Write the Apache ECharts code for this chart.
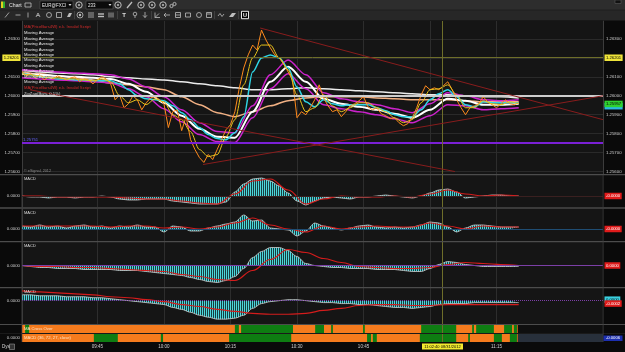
<!DOCTYPE html>
<html><head><meta charset="utf-8">
<script src="https://cdn.jsdelivr.net/npm/echarts@6.0.0/dist/echarts.min.js"></script>
<style>html,body{margin:0;padding:0;background:#0a0a0a;overflow:hidden}#c{width:625px;height:352px}</style>
</head><body><div id="c"></div>
<script>
// ---------- time axis: minutes after 09:00, one bar per minute ----------
const T0 = 28;                 // first bar 09:28
const X_MIN = 28, X_MAX = 159; // 09:28 .. 11:39
const DATA_END = 139.8;
const timeTicks = [45, 60, 75, 90, 105, 120, 135];
const priceTicks = [1.256, 1.257, 1.258, 1.259, 1.260, 1.261, 1.262, 1.263];
const cursorTime = 122.667;    // 11:02:40
const cursorLabel = '11:02:40 08/31/2012';
const cursorPrice = 1.26201;
const roundLevel = 1.26000;
const supportLevel = 1.25751;
const lastPrice = 1.25957;

// ---------- price (1-min close) ----------
const priceClose = [
 1.26126,1.26105,1.26116,1.26095,1.26111,1.26084,1.26100,1.26089,1.26105,1.26095,
 1.26084,1.26095,1.26100,1.26074,1.26089,1.26084,1.26063,1.26084,1.26100,1.26089,
 1.26063,1.25979,1.26005,1.25937,1.25958,1.26000,1.25979,1.25926,1.25963,1.25989,
 1.25995,1.25979,1.25958,1.25832,1.25916,1.25926,1.25816,1.25890,1.25769,1.25716,
 1.25674,1.25648,1.25690,1.25663,1.25716,1.25769,1.25821,1.25847,1.25916,1.26042,
 1.26147,1.26216,1.26268,1.26242,1.26347,1.26295,1.26253,1.26216,1.26200,1.26168,
 1.26126,1.26084,1.25884,1.25916,1.25900,1.25937,1.25979,1.26058,1.25989,1.25947,
 1.25916,1.25926,1.25890,1.25916,1.25947,1.25958,1.25974,1.25995,1.25942,1.25926,
 1.25937,1.25905,1.25895,1.25879,1.25884,1.25858,1.25842,1.25853,1.25884,1.25937,
 1.26005,1.26053,1.26032,1.26042,1.26032,1.26053,1.26074,1.26032,1.25979,1.25937,
 1.25900,1.25937,1.25947,1.25958,1.25995,1.25968,1.25953,1.25937,1.25958,1.25979,
 1.25958,1.25953,1.25963];

// ---------- moving averages (read every 2 or 4 minutes) ----------
const STEP_FAST = 2, STEP_SLOW = 4;
const maYellow = [1.26116,1.26111,1.26105,1.26095,1.26095,1.26089,1.26089,1.26084,1.26079,1.26089,
 1.26074,1.26000,1.25963,1.25979,1.25953,1.25984,1.25968,1.25900,1.25874,1.25811,
 1.25716,1.25679,1.25689,1.25784,1.25874,1.26058,1.26200,1.26268,1.26268,1.26200,
 1.26137,1.26005,1.25916,1.25937,1.26005,1.25947,1.25916,1.25937,1.25963,1.25963,
 1.25937,1.25916,1.25884,1.25858,1.25874,1.25963,1.26032,1.26037,1.26058,1.26005,
 1.25937,1.25937,1.25974,1.25958,1.25953,1.25968,1.25958];
const maCyan = [1.26121,1.26111,1.26100,1.26095,1.26089,1.26089,1.26084,1.26084,1.26079,1.26079,
 1.26079,1.26063,1.26032,1.26000,1.25984,1.25979,1.25974,1.25947,1.25911,1.25874,
 1.25832,1.25795,1.25774,1.25768,1.25805,1.25890,1.26126,1.26200,1.26216,1.26200,
 1.26147,1.26047,1.25968,1.25942,1.25979,1.25958,1.25947,1.25953,1.25953,1.25953,
 1.25937,1.25921,1.25900,1.25890,1.25890,1.25926,1.25979,1.26011,1.26032,1.25995,
 1.25953,1.25942,1.25968,1.25963,1.25963,1.25963,1.25963];
const bandMid = [1.26116,1.26111,1.26105,1.26100,1.26095,1.26089,1.26063,1.26021,1.25963,1.25895,
 1.25826,1.25784,1.25779,1.25916,1.26074,1.26153,1.26074,1.25984,1.25958,1.25942,
 1.25926,1.25905,1.25884,1.25926,1.25984,1.25974,1.25953,1.25953,1.25958];
const bandUpper = [1.26137,1.26132,1.26126,1.26121,1.26116,1.26111,1.26089,1.26047,1.25995,1.25926,
 1.25858,1.25811,1.25805,1.25947,1.26111,1.26189,1.26111,1.26016,1.25984,1.25968,
 1.25953,1.25932,1.25911,1.25958,1.26016,1.26000,1.25979,1.25974,1.25979];
const bandLower = [1.26095,1.26089,1.26084,1.26079,1.26074,1.26068,1.26037,1.25995,1.25932,1.25863,
 1.25795,1.25758,1.25753,1.25884,1.26037,1.26116,1.26037,1.25953,1.25932,1.25916,
 1.25900,1.25879,1.25858,1.25895,1.25953,1.25947,1.25926,1.25932,1.25937];
const maPeach = [1.26126,1.26116,1.26105,1.26095,1.26084,1.26068,1.26058,1.26047,1.26032,1.25995,
 1.25953,1.25911,1.25890,1.25916,1.25947,1.25974,1.25989,1.25995,1.25995,1.25995,
 1.25989,1.25984,1.25979,1.25979,1.25979,1.25974,1.25968,1.25968,1.25968];
const maWhite = [1.26137,1.26126,1.26121,1.26116,1.26111,1.26100,1.26095,1.26089,1.26084,1.26074,
 1.26063,1.26053,1.26042,1.26032,1.26032,1.26037,1.26042,1.26037,1.26032,1.26026,
 1.26021,1.26016,1.26011,1.26005,1.26005,1.26000,1.25995,1.25995,1.25989];

// trend lines: [time1, price1, time2, price2]
const trendLines = [[81.7,1.26358,159,1.25874],[29.8,1.26032,125.6,1.25600],[68.8,1.25637,159,1.26000]];

// ---------- MACD panels (units of 0.00001), every 2 min / signal every 4 min ----------
const macd1 = [0,-1,-1,-2,-1,-1,-2,-1,-1,0,-1,-3,-4,-4,-3,-3,-3,-5,-6,-7,
 -8,-8,-8,-6,4,12,17,18,15,10,3,-5,-9,-5,-2,-1,-2,-3,-1,-1,
 0,1,0,-1,-2,0,3,6,7,4,-2,-1,0,1,1,0,0];
const signal1 = [0,0,-1,-1,-1,-1,-2,-3,-3,-5,-7,-8,2,15,17,6,-8,-3,0,-1,-1,0,-1,2,6,2,0,1,0];
const macd2 = [3,2,4,2,3,1,3,4,2,3,1,3,2,4,2,2,-3,3,2,-2,
 -2,1,3,5,7,14,8,9,1,0,-1,-7,-2,6,3,1,-1,1,3,4,
 2,1,2,1,2,4,7,6,2,-3,1,4,4,3,2,2,2];
const signal2 = [3,3,3,3,3,2,3,3,1,2,0,2,6,11,4,0,-3,3,0,2,3,2,2,6,3,0,3,2,2];
const macd3 = [0,-1,-2,-2,-3,-3,-3,-4,-4,-4,-4,-5,-5,-5,-6,-7,-8,-9,-10,-12,
 -14,-16,-17,-15,-11,-3,8,14,18,18,15,9,2,0,-1,-2,-2,-3,-3,-3,
 -4,-4,-4,-5,-6,-6,-3,1,4,3,1,0,-1,-1,-1,-1,-1];
const signal3 = [0,-1,-1,-2,-2,-3,-4,-5,-6,-9,-11,-14,-15,-5,6,16,13,7,3,-1,-2,-3,-3,-2,1,3,2,1,0];
const macd4 = [6,6,5,5,5,4,4,4,3,3,2,1,0,-1,-2,-3,-4,-7,-9,-12,
 -15,-17,-19,-19,-18,-15,-8,-3,-1,0,1,1,0,-1,-2,-2,-3,-3,-4,-4,
 -5,-6,-7,-7,-8,-7,-6,-4,-3,-3,-3,-2,-2,-2,-2,-2,-2];
const signal4 = [10,9,8,7,6,4,3,1,-1,-4,-6,-9,-11,-13,-14,-14,-13,-10,-8,-5,-4,-4,-5,-5,-4,-4,-4,-4,-4];

// ---------- state bands (green spans, minutes after 09:00) ----------
const crossOverGreen = [[28.7,29.6],[76.0,76.9],[77.4,89.1],[94.1,96.1],[97.7,98.1],[104.9,105.3],[118.0,125.9],[129.5,129.9],[130.4,134.4],[136.7,138.5],[138.9,139.6]];
const macdBandGreen = [[44.2,49.6],[59.3,59.8],[74.7,88.7],[105.8,106.7],[107.1,108.0],[117.7,125.9],[128.6,129.0],[134.4,136.2],[138.0,139.6]];

// ====================================================================
const F = '"Liberation Sans", Arial, sans-serif';
const pts = (arr, step) => arr.map((v, k) => [T0 + k * step, v]);
const fmtTime = m => { const h = 9 + Math.floor(m / 60), mm = Math.round(m % 60); return (h < 10 ? '0' : '') + h + ':' + (mm < 10 ? '0' : '') + mm; };
const CROSS = '#6e6e2a';
const HIDDEN = {color: 'rgba(0,0,0,0)', width: 0.1, type: 'solid'};

const chart = echarts.init(document.getElementById('c'), null, {renderer: 'canvas'});

const grids = [
  {top: 21, height: 153}, {top: 175, height: 32}, {top: 209, height: 32}, {top: 242, height: 45},
  {top: 288, height: 36}, {top: 325, height: 8}, {top: 334, height: 8}
].map((g, i) => Object.assign({left: 22, right: 22, show: i <= 4, backgroundColor: '#151515', borderWidth: 0}, g));

const xAxes = grids.map((g, i) => ({
  type: 'value', gridIndex: i, min: X_MIN, max: X_MAX,
  axisLine: {show: false}, axisTick: {show: false, customValues: timeTicks},
  axisLabel: {show: i === 6, customValues: timeTicks, formatter: fmtTime, color: '#cfcfcf', fontSize: 4.5, fontFamily: F, margin: 2},
  splitLine: {show: i <= 4, lineStyle: {color: '#2d2d2d', width: 1}}
}));

const panels = [
  {macd: macd1, sig: signal1, min: -11, max: 21, zero: '#3a2020', zt: 'solid', tags: [[0, '-0.0000', '#e01b1b', '#fff']]},
  {macd: macd2, sig: signal2, min: -12, max: 20, zero: '#1f4d73', zt: 'solid', tags: [[0, '-0.0000', '#e01b1b', '#fff']]},
  {macd: macd3, sig: signal3, min: -21.5, max: 23.5, zero: '#7b3fa6', zt: 'solid', tags: [[0, '0.0000', '#e01b1b', '#fff']]},
  {macd: macd4, sig: signal4, min: -24, max: 13, zero: '#7b3fa6', zt: 'dotted', tags: [[1, '0.0000', '#3ad0e0', '#000'], [-3, '-0.0002', '#e01b1b', '#fff']]}
];

const yAxes = [
  {type: 'value', gridIndex: 0, position: 'left', min: 1.25587, max: 1.26395,
   axisLine: {show: true, lineStyle: {color: '#3c3c3c'}}, axisTick: {show: false, customValues: priceTicks},
   axisLabel: {customValues: priceTicks, formatter: v => v.toFixed(5), color: '#d0d0d0', fontSize: 4.3, fontFamily: F, margin: 2},
   splitLine: {show: true, lineStyle: {color: '#2a2a2a'}}},
  {type: 'value', gridIndex: 0, position: 'right', min: 1.25587, max: 1.26395,
   axisLine: {show: true, lineStyle: {color: '#3c3c3c'}}, axisTick: {show: false, customValues: priceTicks},
   axisLabel: {customValues: priceTicks, formatter: v => v.toFixed(5), color: '#d0d0d0', fontSize: 4.3, fontFamily: F, margin: 3},
   splitLine: {show: false}}
];
panels.forEach((p, k) => yAxes.push({
  type: 'value', gridIndex: k + 1, min: p.min, max: p.max,
  axisLine: {show: true, lineStyle: {color: '#3c3c3c'}}, axisTick: {show: false, customValues: [0]},
  axisLabel: {customValues: [0], formatter: () => '0.0000', color: '#d0d0d0', fontSize: 4.3, fontFamily: F, margin: 2},
  splitLine: {show: false}
}));
yAxes.push({type: 'value', gridIndex: 5, min: 0, max: 1, show: false});
yAxes.push({type: 'value', gridIndex: 6, min: 0, max: 1, axisLine: {show: false}, axisTick: {show: false, customValues: [0.5]},
  axisLabel: {customValues: [0.5], formatter: () => '0.0000', color: '#d0d0d0', fontSize: 4.3, fontFamily: F, margin: 2}, splitLine: {show: false}});

function tag(text, bg, fg, pos) {
  return {show: true, position: pos || 'end', distance: 1.5, formatter: text, backgroundColor: bg, color: fg || '#fff',
    fontSize: 4.2, fontFamily: F, padding: [1, 1.5, 0.5, 1.5], lineHeight: 5, opacity: 1};
}
const crossItem = {xAxis: cursorTime, lineStyle: {color: CROSS, width: 1, type: 'solid', opacity: 1}, label: {show: false}};

// striped histogram fill
const pat = document.createElement('canvas'); pat.width = 2; pat.height = 2;
const pc = pat.getContext('2d');
pc.fillStyle = 'rgba(80,225,230,0.95)'; pc.fillRect(0, 0, 1, 2);
pc.fillStyle = 'rgba(25,95,100,0.55)'; pc.fillRect(1, 0, 1, 2);

const ml = (s, w, c, d, extra) => Object.assign({type: 'line', xAxisIndex: 0, yAxisIndex: 0, symbol: 'none', smooth: 0.3, smoothMonotone: 'x',
  silent: true, data: d, lineStyle: {color: c, width: w}, itemStyle: {color: c}, name: s}, extra || {});

const mainMarks = [
  {yAxis: cursorPrice, lineStyle: {color: CROSS, width: 1, type: 'solid'}, label: tag(cursorPrice.toFixed(5), '#efe43a', '#000', 'start')},
  {yAxis: cursorPrice, lineStyle: HIDDEN, label: tag(cursorPrice.toFixed(5), '#efe43a', '#000', 'end')},
  {yAxis: roundLevel, lineStyle: {color: '#cdcdcd', width: 2, type: 'solid'}},
  {yAxis: supportLevel, lineStyle: {color: '#7b20d6', width: 2, type: 'solid'},
   label: {show: true, position: 'insideStartTop', formatter: supportLevel.toFixed(5), color: '#6464ff', fontSize: 4.2, fontFamily: F, distance: [1, 1]}},
  {yAxis: lastPrice - 0.00012, lineStyle: HIDDEN, label: tag(lastPrice.toFixed(5), '#2ab8e0', '#000', 'end')},
  {yAxis: lastPrice, lineStyle: HIDDEN, label: tag(lastPrice.toFixed(5), '#2fd12f', '#000', 'end')},
  crossItem
].concat(trendLines.map(t => [{coord: [t[0], t[1]]}, {coord: [t[2], t[3]]}]));

const series = [
  ml('maWhite', 1.5, '#ececec', pts(maWhite, STEP_SLOW), {markLine: {silent: true, symbol: ['none', 'none'], animation: false, precision: 6,
     label: {show: false}, lineStyle: {color: '#881c1c', width: 1, type: 'solid'}, data: mainMarks}}),
  ml('maPeach', 1.5, '#f2b184', pts(maPeach, STEP_SLOW)),
  ml('bandUpper', 1.5, '#cc22cc', pts(bandUpper, STEP_SLOW)),
  ml('bandLower', 1.5, '#cc22cc', pts(bandLower, STEP_SLOW)),
  ml('bandMid', 2, '#ffffff', pts(bandMid, STEP_SLOW)),
  ml('maCyan', 1.5, '#2fd6e6', pts(maCyan, STEP_FAST)),
  ml('price', 1, '#ff8a1c', pts(priceClose, 1), {smooth: false}),
  ml('maYellow', 1, '#e8c41c', pts(maYellow, STEP_FAST))
];
const PRICE_IDX = series.findIndex(s => s.name === 'price');

panels.forEach((p, k) => {
  const marks = [{yAxis: 0, lineStyle: {color: p.zero, width: 1, type: p.zt}}]
    .concat(p.tags.map(t => ({yAxis: t[0], lineStyle: HIDDEN, label: tag(t[1], t[2], t[3], 'end')})))
    .concat([crossItem]);
  series.push({type: 'line', name: 'macd' + (k + 1), xAxisIndex: k + 1, yAxisIndex: k + 2, symbol: 'none', smooth: 0.3, smoothMonotone: 'x', silent: true,
    data: pts(p.macd, STEP_FAST), lineStyle: {color: '#cfcfcf', width: 0.8},
    areaStyle: {color: {image: pat, repeat: 'repeat'}, opacity: 1},
    markLine: {silent: true, symbol: ['none', 'none'], animation: false, precision: 6, label: {show: false}, data: marks}});
  series.push({type: 'line', name: 'signal' + (k + 1), xAxisIndex: k + 1, yAxisIndex: k + 2, symbol: 'none', smooth: 0.4, smoothMonotone: 'x', silent: true,
    data: pts(p.sig, STEP_SLOW), lineStyle: {color: '#d41c1c', width: 1.2}, z: 4});
});

function bandSeries(gi, yi, greens, tail) {
  const areas = [[{xAxis: X_MIN, itemStyle: {color: '#f57b1d'}}, {xAxis: DATA_END}],
                 [{xAxis: DATA_END, itemStyle: {color: tail}}, {xAxis: X_MAX}]]
    .concat(greens.map(g => [{xAxis: g[0], itemStyle: {color: '#0e7d12'}}, {xAxis: g[1]}]));
  return {type: 'line', xAxisIndex: gi, yAxisIndex: yi, data: [[X_MIN, 0.5]], symbol: 'none', lineStyle: {opacity: 0}, silent: true,
    markArea: {silent: true, animation: false, precision: 6, data: areas},
    markLine: {silent: true, symbol: ['none', 'none'], animation: false, precision: 6, label: {show: false}, data: [crossItem]}};
}
series.push(bandSeries(5, 6, crossOverGreen, '#0f0f0f'));
series.push(bandSeries(6, 7, macdBandGreen, '#28303b'));

// ---------- static decoration (toolbar, separators, captions) ----------
const gray = '#bdbdbd';
const L = (x1, y1, x2, y2, c, w) => ({type: 'line', z: 60, silent: true, shape: {x1, y1, x2, y2}, style: {stroke: c || gray, lineWidth: w || 0.8}});
const R = (x, y, w, h, fill, stroke, lw) => ({type: 'rect', z: 60, silent: true, shape: {x, y, width: w, height: h}, style: {fill: fill || 'none', stroke: stroke || null, lineWidth: lw || 0.8}});
const C = (cx, cy, r, fill, stroke, lw) => ({type: 'circle', z: 60, silent: true, shape: {cx, cy, r}, style: {fill: fill || 'none', stroke: stroke || null, lineWidth: lw || 0.8}});
const TX = (x, y, text, fill, size, extra) => ({type: 'text', z: 70, silent: true, style: Object.assign({x, y, text, fill, fontSize: size, fontFamily: F, verticalAlign: 'middle'}, extra || {})});
const P = (points, fill) => ({type: 'polygon', z: 60, silent: true, shape: {points}, style: {fill}});

const graphics = [
  R(0, 0, 625, 10, '#2d2d2d'), R(0, 10, 625, 10.5, '#272727'), L(0, 10, 625, 10, '#181818', 0.6),
  R(1, 1.5, 2, 6.5, '#e0d020'), R(3, 1.5, 2, 6.5, '#30b030'),
  TX(9, 5.3, 'Chart', '#e8e8e8', 5.2),
  R(25, 3, 6, 4, null, gray),
  R(40, 1, 33, 8, '#0b0b0b', '#5a5a5a', 0.6), TX(42, 5.3, 'EUR@FXCI', '#eeeeee', 4.5), P([[68.5, 4], [71.5, 4], [70, 6]], '#ddd'),
  C(79, 5, 3.2, null, gray, 1), C(79, 5, 1, gray),
  R(86, 1, 27, 8, '#0b0b0b', '#5a5a5a', 0.6), TX(88, 5.3, '233', '#eeeeee', 4.5), P([[108.5, 4], [111.5, 4], [110, 6]], '#ddd'),
  C(118, 5, 3.2, null, gray, 1), C(118, 5, 1, gray),
  L(127, 8, 132, 2, gray, 1.3),
  C(141, 5, 3.2, null, gray, 1), C(141, 5, 1, gray), C(152, 5, 3.2, null, gray, 1), C(152, 5, 1, gray),
  C(163, 5, 3.2, null, gray, 1), C(163, 5, 1, gray), C(171.5, 6, 1.6, null, gray, 0.9), C(174.5, 4, 1.6, null, gray, 0.9),
  // drawing tools row
  L(5, 17.5, 9, 12.5), L(15.5, 15, 20.5, 15), L(28, 12.5, 28, 17.5),
  L(36, 17, 38, 13), L(38, 13, 40, 17), L(36.8, 15.5, 39.2, 15.5),
  C(49, 15, 2.5, null, gray), R(56.5, 12.5, 5, 5, null, gray), P([[67, 17], [69, 13], [72, 13], [70, 17]], gray),
  L(74.5, 11, 74.5, 19, '#454545'),
  C(80, 15, 3, null, gray), C(80, 15, 1.2, gray),
  L(88, 13, 94, 13), L(88, 15, 94, 15), L(88, 17, 94, 17),
  L(98, 14, 104, 14, gray, 1.4), L(98, 16.5, 104, 16.5, gray, 1.4),
  L(109, 12.5, 109, 17.5), L(111, 12.5, 111, 17.5), L(113, 12.5, 113, 17.5),
  L(117.5, 11, 117.5, 19, '#454545'),
  TX(124, 15.3, 'T', '#dddddd', 6, {align: 'center', fontWeight: 'bold'}),
  C(135, 14, 1.8, null, gray), L(135, 15.8, 135, 18),
  L(145, 12, 145, 17.5), L(143, 15.3, 145, 17.5), L(147, 15.3, 145, 17.5),
  L(151.5, 11, 151.5, 19, '#454545'),
  L(155, 12.5, 155, 17.5), L(155, 17.5, 160, 17.5), L(155, 17.5, 159, 13.5),
  L(164, 15, 170, 15), L(164, 15, 166, 13), L(164, 15, 166, 17),
  R(175.5, 12.5, 5, 5, null, gray), L(175.5, 15, 180.5, 15),
  R(185.5, 13, 5, 4, null, gray), C(199, 15, 2.5, null, gray), R(206.5, 12.5, 5, 5, null, gray), L(207, 14, 211, 14),
  L(214.5, 11, 214.5, 19, '#454545'),
  L(218, 16, 220, 13.5), L(220, 13.5, 222, 16.5), L(222, 16.5, 224, 14),
  P([[229, 17], [232, 13], [236, 13], [233, 17]], gray),
  L(238.5, 11, 238.5, 19, '#454545'),
  R(241.5, 11.3, 7, 7.4, '#000', '#ffffff', 0.9), TX(245, 15.3, 'U', '#ffffff', 5.5, {align: 'center', fontWeight: 'bold'}),
  R(615, 0, 6, 3.5, '#111', '#666', 0.5),
  // panel separators and side borders
  R(0, 174, 625, 1.2, '#4c4c4c'), R(0, 207.2, 625, 1.6, '#4c4c4c'), R(0, 241, 625, 1.2, '#4c4c4c'),
  R(0, 287, 625, 1.2, '#4c4c4c'), R(0, 324, 625, 1, '#4c4c4c'), R(0, 333, 625, 1, '#1a1a1a'),
  R(21.5, 175, 0.8, 167, '#3c3c3c'), R(602.7, 175, 0.8, 167, '#3c3c3c'),
  // main panel captions
  TX(24, 27, 'MA(PriceBars4W) e.k. Invalid Script', '#d42a2a', 4.2)
];
for (let k = 0; k < 10; k++) graphics.push(TX(24, 33.3 + k * 5.4, 'Moving Average', '#e6e6e6', 4.2));
graphics.push(
  TX(24, 88.3, 'MA(PriceBars4W) e.k. Invalid Script', '#d42a2a', 4.2),
  TX(24, 94, 'ZigZag(Bars, 0.1%)', '#d0d0d0', 4.2),
  TX(24, 170.5, '\u00A9 eSignal, 2012', '#8a8a8a', 3.8),
  TX(24, 179, 'MACD', '#dddddd', 4), TX(24, 213, 'MACD', '#dddddd', 4), TX(24, 246, 'MACD', '#dddddd', 4), TX(24, 292, 'MACD', '#dddddd', 4),
  TX(24, 329.3, 'MA Cross Over', '#ffe3c4', 4.2), TX(24, 338.2, 'MACD (36, 72, 27, close)', '#ffe3c4', 4.2),
  R(603.5, 335.5, 19, 5.5, '#1c2fb0'), TX(613, 338.3, '-0.0006', '#ffffff', 4.2, {align: 'center'}),
  TX(2, 346.8, 'Dys', '#dddddd', 4.5), R(9.5, 344, 5, 5.5, '#333', '#aaa', 0.5),
  R(422, 343.6, 41, 6, '#f2ea2e'), TX(442.5, 346.7, cursorLabel, '#000', 4, {align: 'center'})
);

chart.setOption({
  animation: false,
  backgroundColor: '#0a0a0a',
  textStyle: {fontFamily: F},
  grid: grids, xAxis: xAxes, yAxis: yAxes,
  visualMap: [{type: 'piecewise', show: false, seriesIndex: PRICE_IDX, dimension: 0,
    pieces: crossOverGreen.map(g => ({gte: g[0] - 0.5, lte: g[1] + 0.5, color: '#3ddc3d'})),
    outOfRange: {color: '#ff8a1c'}}],
  series: series,
  graphic: {elements: graphics}
});
</script>
</body></html>
